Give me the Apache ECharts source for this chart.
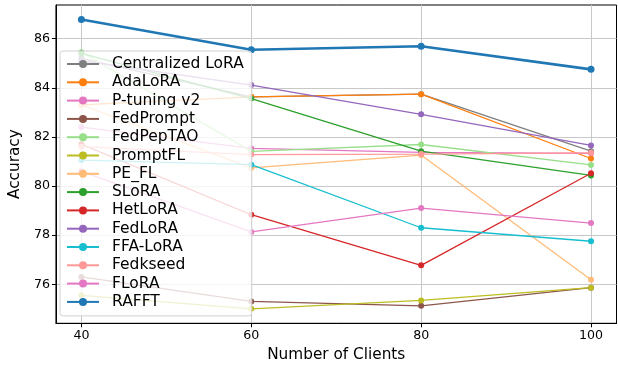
<!DOCTYPE html>
<html>
<head>
<meta charset="utf-8">
<script src="https://cdn.jsdelivr.net/npm/echarts@6/dist/echarts.min.js"></script>
<style>
  html, body { margin: 0; padding: 0; background: #fff; }
  #chart { width: 618px; height: 368px; }
</style>
</head>
<body>
<div id="chart"></div>
<script>
// Number of clients on the x axis
const clients = [40, 60, 80, 100];
const xTicks = [40, 60, 80, 100];
const yTicks = [76, 78, 80, 82, 84, 86];

// Accuracy per method
const centralizedLoRA = [85.2, 83.63, 83.74, 81.42];
const adaLoRA        = [83.3, 83.63, 83.74, 81.12];
const pTuningV2      = [82.4, 81.53, 81.37, 81.33];
const fedPrompt      = [76.3, 75.30, 75.12, 75.86];
const fedPepTAO      = [85.45, 81.41, 81.69, 80.86];
const promptFL       = [75.55, 75.00, 75.34, 75.86];
const peFL           = [83.3, 80.74, 81.26, 76.18];
const sLoRA          = [85.4, 83.56, 81.42, 80.43];
const hetLoRA        = [81.7, 78.83, 76.77, 80.52];
const fedLoRA        = [85.1, 84.11, 82.92, 81.65];
const ffaLoRA        = [81.05, 80.87, 78.30, 77.75];
const fedkseed       = [81.6, 81.28, 81.30, 81.35];
const fLoRA          = [80.6, 78.13, 79.10, 78.49];
const rafft          = [86.78, 85.55, 85.69, 84.75];

const methods = [
  ['Centralized LoRA', centralizedLoRA, '#7f7f7f'],
  ['AdaLoRA', adaLoRA, '#ff7f0e'],
  ['P-tuning v2', pTuningV2, '#e377c2'],
  ['FedPrompt', fedPrompt, '#8c564b'],
  ['FedPepTAO', fedPepTAO, '#98df8a'],
  ['PromptFL', promptFL, '#bcbd22'],
  ['PE_FL', peFL, '#ffbb78'],
  ['SLoRA', sLoRA, '#2ca02c'],
  ['HetLoRA', hetLoRA, '#d62728'],
  ['FedLoRA', fedLoRA, '#9467bd'],
  ['FFA-LoRA', ffaLoRA, '#17becf'],
  ['Fedkseed', fedkseed, '#ff9896'],
  ['FLoRA', fLoRA, '#e377c2'],
  ['RAFFT', rafft, '#1f77b4']
];

const font = 'DejaVu Sans';

const series = methods.map(([name, vals, color]) => {
  const bold = name === 'RAFFT';
  return {
    name: name,
    type: 'line',
    data: clients.map((c, i) => [c, vals[i]]),
    symbol: 'circle',
    symbolSize: bold ? 7 : 6,
    showSymbol: true,
    lineStyle: { width: bold ? 2.6 : 1.3, color: color },
    itemStyle: { color: color },
    emphasis: { disabled: true },
    animation: false
  };
});

const chart = echarts.init(document.getElementById('chart'), null, { renderer: 'canvas' });
chart.setOption({
  animation: false,
  grid: {
    left: 53, right: 1.5, top: 5, bottom: 44.7,
    show: true, borderColor: '#000', borderWidth: 1, backgroundColor: 'transparent'
  },
  xAxis: {
    type: 'value',
    min: 37, max: 103,
    name: 'Number of Clients',
    nameLocation: 'middle',
    nameGap: 20,
    nameTextStyle: { fontFamily: font, fontSize: 15.3, color: '#000', verticalAlign: 'top' },
    axisLine: { show: true, lineStyle: { color: '#000', width: 1 } },
    axisTick: { show: true, length: 4, lineStyle: { color: '#000' }, customValues: xTicks },
    axisLabel: { fontFamily: font, fontSize: 12.6, color: '#000', margin: 6, customValues: xTicks },
    splitLine: { show: true, lineStyle: { color: '#c8c8c8', width: 1 } }
  },
  yAxis: {
    type: 'value',
    min: 74.41, max: 87.37,
    name: 'Accuracy',
    nameLocation: 'middle',
    nameGap: 24,
    nameRotate: 90,
    nameTextStyle: { fontFamily: font, fontSize: 15.3, color: '#000' },
    axisLine: { show: true, lineStyle: { color: '#000', width: 1 } },
    axisTick: { show: true, length: 4, lineStyle: { color: '#000' }, customValues: yTicks },
    axisLabel: { fontFamily: font, fontSize: 12.6, color: '#000', margin: 6, customValues: yTicks },
    splitLine: { show: true, lineStyle: { color: '#c8c8c8', width: 1 } }
  },
  legend: {
    orient: 'vertical',
    left: 60, top: 51,
    padding: [5, 8, 6, 6],
    itemWidth: 32,
    itemHeight: 10,
    itemGap: 2.3,
    backgroundColor: 'rgba(255,255,255,0.8)',
    borderColor: '#d0d0d0',
    borderWidth: 1,
    borderRadius: 3,
    textStyle: { fontFamily: font, fontSize: 15.5, color: '#000', lineHeight: 15, padding: [0, 0, 0, 8] },
    data: methods.map(m => m[0])
  },
  series: series
});
</script>
</body>
</html>
